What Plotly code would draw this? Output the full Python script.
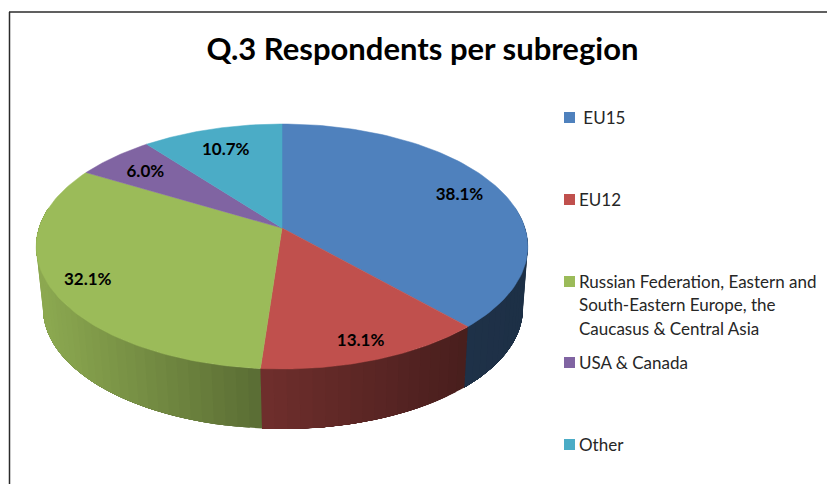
import numpy as np
import plotly.graph_objects as go

categories = ["EU15", "EU12", "Russian Federation, Eastern and South-Eastern Europe, the Caucasus & Central Asia", "USA & Canada", "Other"]
values = [38.1, 13.1, 32.1, 6.0, 10.7]
colors = ["#4f81bd", "#c0504d", "#9bbb59", "#8064a2", "#4bacc6"]
legend_lines = ["\u00a0EU15", "EU12", "Russian Federation, Eastern and", "South-Eastern Europe, the", "Caucasus & Central Asia", "USA & Canada", "Other"]

# pie geometry, in page pixels (the axes below run 1:1 with the page)
CX, CY = 282, 228
RX, RY = 243, 119.7
PERSP = 0.151
DEPTH = 62.5
SHRINK_X, SHRINK_Y = 0.976, 0.982
LABEL_R = [0.82, 0.86, 0.85, 0.80, 0.78]
LABEL_DROP = 2.5


def top_point(angle, r=1.0):
    # angle is clockwise from 12 o'clock
    u = r * np.sin(angle)
    v = -r * np.cos(angle)
    d = 1 - PERSP * v
    return CX + RX * u / d, CY + RY * v / d


def bottom_point(angle):
    x, y = top_point(angle)
    return CX + 1 + SHRINK_X * (x - CX), CY + DEPTH + SHRINK_Y * (y - CY)


def shade(x):
    # wall lighting goes darker from left to right
    return np.interp(x, [43, 261, 465, 525], [0.90, 0.58, 0.38, 0.37])


def rgb(hex_color, f):
    r, g, b = [int(hex_color[i:i + 2], 16) for i in (1, 3, 5)]
    return f"rgb({r * f:.0f},{g * f:.0f},{b * f:.0f})"


edges = np.cumsum([0] + values) / 100 * 2 * np.pi

fig = go.Figure()

# side walls, only the front half can be seen
for i, col in enumerate(colors):
    start, end = max(edges[i], np.radians(80)), min(edges[i + 1], np.radians(280))
    if start >= end:
        continue
    steps = np.linspace(start, end, max(2, int(np.degrees(end - start) / 2.5)) + 1)
    # each band runs on to the end of the slice so no seams show between bands
    for a0 in steps[:-1]:
        arc = np.linspace(a0, end, 40)
        tx, ty = top_point(arc)
        bx, by = bottom_point(arc[::-1])
        a1 = a0 + (end - start) / (len(steps) - 1)
        mx = (top_point(a0)[0] + top_point(a1)[0]) / 2
        c = rgb(col, shade(mx))
        fig.add_trace(go.Scatter(
            x=list(tx) + list(bx), y=list(ty) + list(by),
            mode="lines", fill="toself", fillcolor=c,
            line=dict(width=0), hoverinfo="skip", showlegend=False,
        ))

# top face
for i, col in enumerate(colors):
    arc = np.linspace(edges[i], edges[i + 1], 90)
    ax, ay = top_point(arc)
    fig.add_trace(go.Scatter(
        x=[CX] + list(ax) + [CX], y=[CY] + list(ay) + [CY],
        mode="lines", fill="toself", fillcolor=col,
        line=dict(color=col, width=0.5), name=categories[i],
        hoverinfo="name", showlegend=False,
    ))

# percent labels
mids = (edges[:-1] + edges[1:]) / 2
lx, ly = zip(*[top_point(m, r) for m, r in zip(mids, LABEL_R)])
fig.add_trace(go.Scatter(
    x=lx, y=[y + LABEL_DROP for y in ly], mode="text", text=[f"{v:.1f}%" for v in values],
    textfont=dict(family="Lato", size=17, color="black", weight="bold"),
    hoverinfo="skip", showlegend=False,
))

# legend, spacing is uneven in the original so it is placed by hand
swatch_y = [117.5, 199.5, 281.5, 362.5, 444.5]
line_y = [117, 199, 281, 304, 328, 362, 444]
fig.add_trace(go.Scatter(
    x=[569.5] * 5, y=swatch_y, mode="markers",
    marker=dict(symbol="square", size=11, color=colors, line=dict(width=0)),
    hoverinfo="skip", showlegend=False,
))
for lab, y in zip(legend_lines, line_y):
    fig.add_annotation(
        x=579, y=y, text=lab, showarrow=False, xanchor="left", yanchor="middle",
        xshift=-2, font=dict(family="Lato", size=17, color="#262626"),
    )

fig.update_layout(
    width=827, height=484,
    margin=dict(l=0, r=0, t=0, b=0),
    paper_bgcolor="white", plot_bgcolor="white",
    xaxis=dict(range=[0, 827], visible=False, fixedrange=True),
    yaxis=dict(range=[484, 0], visible=False, fixedrange=True),
    title=dict(
        text="<b>Q.3 Respondents per subregion</b>",
        x=422.5 / 827, y=1 - 49.5 / 484, xanchor="center", yanchor="middle",
        font=dict(family="Lato", size=31, color="black"),
    ),
    shapes=[
        dict(type="line", xref="x", yref="y", x0=9.5, x1=9.5, y0=12, y1=484,
             line=dict(color="#2b2b2b", width=1.5)),
        dict(type="line", xref="x", yref="y", x0=9, x1=827, y0=12, y1=12,
             line=dict(color="#2b2b2b", width=1.5)),
    ],
)

# page margin would push the chart 8px off
fig.write_html("out.html", post_script="document.body.style.margin='0';", config=dict(displayModeBar=False))
